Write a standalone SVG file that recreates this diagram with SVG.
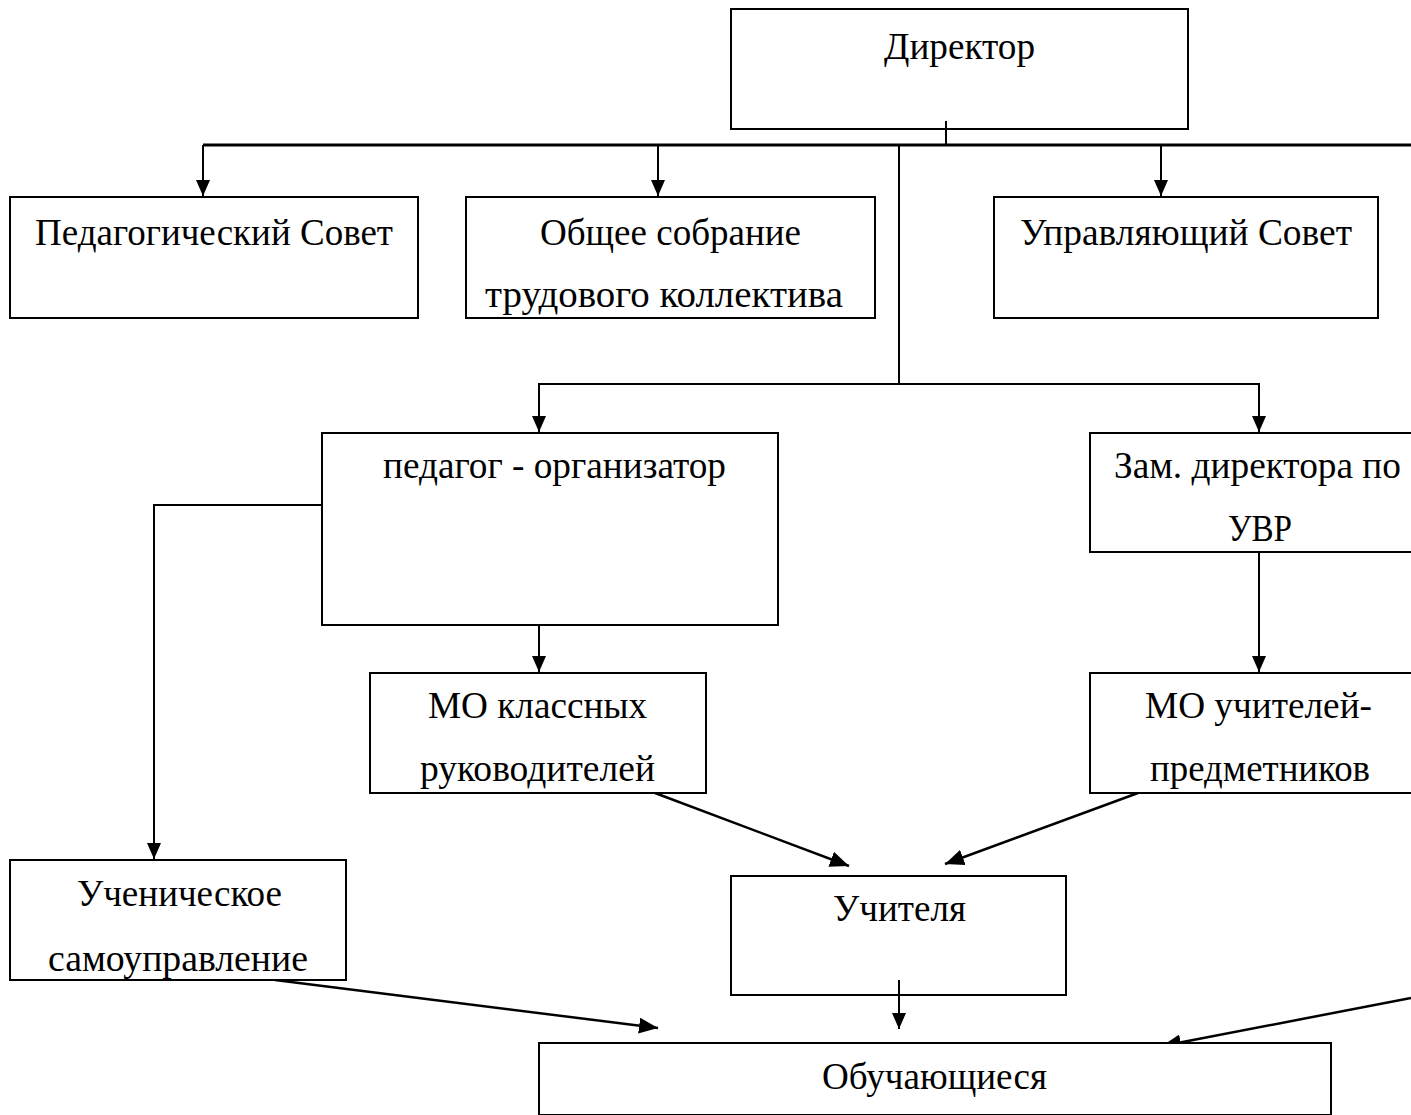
<svg xmlns="http://www.w3.org/2000/svg" width="1411" height="1115" viewBox="0 0 1411 1115">
<style>
.box{fill:#fff;stroke:#000;stroke-width:2}
.t{font-family:"Liberation Serif","Times New Roman",serif;font-size:38px;fill:#000}
.c{fill:none;stroke:#000;stroke-width:2}
.a{marker-end:url(#ah)}
.d{marker-end:url(#ahd);stroke-width:2.5}
</style>
<defs>
<marker id="ah" markerUnits="userSpaceOnUse" markerWidth="17" markerHeight="14" refX="16" refY="7" orient="auto">
<path d="M0 0 L16 7 L0 14 Z" fill="#000"/>
</marker>
<marker id="ahd" markerUnits="userSpaceOnUse" markerWidth="20" markerHeight="16" refX="19" refY="8" orient="auto">
<path d="M0 0 L19 8 L0 16 Z" fill="#000"/>
</marker>
</defs>
<rect width="1411" height="1115" fill="#fff"/>
<g id="connectors">
<path class="c" d="M203 145 H1411" style="stroke-width:3"/>
<path class="c" d="M946 121 V145"/>
<path class="c a" d="M203 145 V196"/>
<path class="c a" d="M658 145 V196"/>
<path class="c a" d="M1161 145 V196"/>
<path class="c" d="M899 145 V384"/>
<path class="c a" d="M899 384 H539 V432"/>
<path class="c a" d="M899 384 H1259 V432"/>
<path class="c a" d="M322 505 H154 V859"/>
<path class="c a" d="M539 625 V672"/>
<path class="c a" d="M1259 552 V672"/>
<path class="c d" d="M655 793 L849 866"/>
<path class="c d" d="M1138 793 L945 864"/>
<path class="c d" d="M275 980 L658 1028"/>
<path class="c a" d="M899 980 V1029"/>
<path class="c d" d="M1411 998 L1162 1046"/>
</g>
<g id="director">
<rect class="box" x="731" y="9" width="457" height="120" style="fill:none"/>
<text class="t" x="884" y="59" textLength="151" lengthAdjust="spacingAndGlyphs">Директор</text>
</g>
<g id="ped-sovet">
<rect class="box" x="10" y="197" width="408" height="121"/>
<text class="t" x="35" y="245" textLength="358" lengthAdjust="spacingAndGlyphs">Педагогический Совет</text>
</g>
<g id="obshee-sobranie">
<rect class="box" x="466" y="197" width="409" height="121"/>
<text class="t" x="540" y="245" textLength="261" lengthAdjust="spacingAndGlyphs">Общее собрание</text>
<text class="t" x="485" y="307" textLength="358" lengthAdjust="spacingAndGlyphs">трудового коллектива</text>
</g>
<g id="upr-sovet">
<rect class="box" x="994" y="197" width="384" height="121"/>
<text class="t" x="1020" y="245" textLength="332" lengthAdjust="spacingAndGlyphs">Управляющий Совет</text>
</g>
<g id="pedagog-org">
<rect class="box" x="322" y="433" width="456" height="192" style="fill:none"/>
<text class="t" x="383" y="478" textLength="343" lengthAdjust="spacingAndGlyphs">педагог - организатор</text>
</g>
<g id="zam-dir">
<rect class="box" x="1090" y="433" width="340" height="119"/>
<text class="t" x="1114" y="478" textLength="287" lengthAdjust="spacingAndGlyphs">Зам. директора по</text>
<text class="t" x="1228" y="541" textLength="64" lengthAdjust="spacingAndGlyphs">УВР</text>
</g>
<g id="mo-klass">
<rect class="box" x="370" y="673" width="336" height="120"/>
<text class="t" x="428" y="718" textLength="219" lengthAdjust="spacingAndGlyphs">МО классных</text>
<text class="t" x="420" y="781" textLength="235" lengthAdjust="spacingAndGlyphs">руководителей</text>
</g>
<g id="mo-uchit">
<rect class="box" x="1090" y="673" width="340" height="120"/>
<text class="t" x="1145" y="718" textLength="227" lengthAdjust="spacingAndGlyphs">МО учителей-</text>
<text class="t" x="1150" y="781" textLength="220" lengthAdjust="spacingAndGlyphs">предметников</text>
</g>
<g id="uchenicheskoe">
<rect class="box" x="10" y="860" width="336" height="120"/>
<text class="t" x="77" y="906" textLength="205" lengthAdjust="spacingAndGlyphs">Ученическое</text>
<text class="t" x="48" y="971" textLength="260" lengthAdjust="spacingAndGlyphs">самоуправление</text>
</g>
<g id="uchitelya">
<rect class="box" x="731" y="876" width="335" height="119" style="fill:none"/>
<text class="t" x="833" y="921" textLength="133" lengthAdjust="spacingAndGlyphs">Учителя</text>
</g>
<g id="obuchayushiesya">
<rect class="box" x="539" y="1043" width="792" height="72"/>
<text class="t" x="822" y="1089" textLength="225" lengthAdjust="spacingAndGlyphs">Обучающиеся</text>
</g>
</svg>
